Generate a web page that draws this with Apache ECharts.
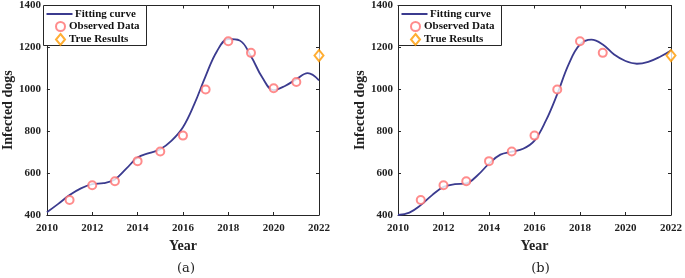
<!DOCTYPE html>
<html><head><meta charset="utf-8">
<script src="https://cdn.jsdelivr.net/npm/echarts@6/dist/echarts.min.js"></script>
<style>html,body{margin:0;padding:0;background:#fff}#c{width:685px;height:278px}</style>
</head><body><div id="c"></div>
<script>
// Data
const observedYearsA = [2011,2012,2013,2014,2015,2016,2017,2018,2019,2020,2021];
const observedValuesA = [472,542,561,657,703,779,999,1229,1174,1005,1035];
const observedYearsB = [2011,2012,2013,2014,2015,2016,2017,2018,2019];
const observedValuesB = [472,542,561,657,703,779,999,1229,1174];
const trueYears = [2022];
const trueValues = [1161];
const curveYears = [2010,2010.5,2011,2011.5,2012,2012.5,2013,2013.5,2014,2014.5,2015,2015.5,2016,2016.5,2017,2017.5,2018,2018.5,2019,2019.5,2020,2020.5,2021,2021.5,2022];
const curveA = [413,453,495,527,547,552,570,621,674,695,714,755,819,929,1063,1182,1240,1233,1158,1056,996,1016,1048,1077,1043];
const curveB = [400,411,447,495,534,547,551,590,645,688,702,716,755,850,977,1119,1214,1237,1214,1166,1135,1122,1131,1154,1185];
const xTicks = [2010,2012,2014,2016,2018,2020,2022];
const yTicks = [400,600,800,1000,1200,1400];
const panelLabels = ['(a)','(b)'];
const legendNames = ['Fitting curve','Observed Data','True Results'];

const FONT = 'Liberation Serif';
const AX = '#262626';
const LINE = '#3b3b8f';
const RED = '#ff6f6f';
const ORANGE = '#ff9a00';

const pairs = (xs, ys) => xs.map((x, i) => [x, ys[i]]);

const grids = [
  {left: 43, top: 5, width: 276, height: 210},
  {left: 398, top: 5, width: 275, height: 210}
];

const xAxes = [], yAxes = [], series = [], legends = [], titles = [], graphics = [];
const legendText = {fontFamily: FONT, fontWeight: 'bold', fontSize: 11, lineHeight: 12, color: '#111'};
[0,1].forEach(g => {
  const L = grids[g].left;
  const base = {min: xTicks[0], max: xTicks[xTicks.length-1], interval: 2, gridIndex: g,
    axisLine: {show: true, onZero: false, lineStyle: {color: AX, width: 1}},
    axisTick: {show: true, inside: true, length: 3, lineStyle: {color: AX}},
    splitLine: {show: false}};
  xAxes.push(Object.assign({}, base, {type: 'value', position: 'bottom',
    name: 'Year', nameLocation: 'middle', nameGap: 18,
    nameTextStyle: {fontFamily: FONT, fontWeight: 'bold', fontSize: 14, color: '#222'},
    axisLabel: {fontFamily: FONT, fontWeight: 'bold', fontSize: 11, color: '#222', margin: 8,
      formatter: v => String(v)}}));
  xAxes.push(Object.assign({}, base, {type: 'value', position: 'top', axisLabel: {show: false}}));
  const ybase = {type: 'value', min: yTicks[0], max: yTicks[yTicks.length-1], interval: 200, gridIndex: g,
    axisLine: {show: true, onZero: false, lineStyle: {color: AX, width: 1}},
    axisTick: {show: true, inside: true, length: 3, lineStyle: {color: AX}},
    splitLine: {show: false}};
  yAxes.push(Object.assign({}, ybase, {position: 'left',
    name: 'Infected dogs', nameLocation: 'middle', nameGap: g === 0 ? 26 : 31,
    nameTextStyle: {fontFamily: FONT, fontWeight: 'bold', fontSize: 14, color: '#222'},
    axisLabel: {fontFamily: FONT, fontWeight: 'bold', fontSize: 11, color: '#222', margin: g === 0 ? 6 : 5,
      formatter: v => String(v)}}));
  yAxes.push(Object.assign({}, ybase, {position: 'right', axisLabel: {show: false}}));

  series.push({name: legendNames[0], type: 'line', xAxisIndex: 2*g, yAxisIndex: 2*g,
    data: pairs(curveYears, g === 0 ? curveA : curveB), smooth: 0.4,
    symbol: 'none', lineStyle: {color: LINE, width: 1.8}, itemStyle: {color: LINE}, z: 2});
  series.push({name: legendNames[1], type: 'scatter', xAxisIndex: 2*g, yAxisIndex: 2*g,
    data: g === 0 ? pairs(observedYearsA, observedValuesA) : pairs(observedYearsB, observedValuesB),
    symbol: 'emptyCircle', symbolSize: 8,
    itemStyle: {color: RED, borderColor: RED, borderWidth: 1.2}, z: 3});
  series.push({name: legendNames[2], type: 'scatter', xAxisIndex: 2*g, yAxisIndex: 2*g,
    data: pairs(trueYears, trueValues), symbol: 'emptyDiamond', symbolSize: [9, 11], clip: false,
    itemStyle: {color: ORANGE, borderColor: ORANGE, borderWidth: 1.5}, z: 3});

  // legend box
  graphics.push({type: 'rect', left: L, top: 5, z: 90,
    shape: {width: 103, height: 40}, style: {fill: '#fff', stroke: AX, lineWidth: 1}});
  legends.push({left: L + 3.5, top: 8, padding: 0, itemWidth: 26, itemHeight: 2, selectedMode: false, z: 100,
    textStyle: Object.assign({}, legendText, {padding: [0,0,0,-2.5]}),
    data: [{name: legendNames[0], icon: 'rect', itemStyle: {color: LINE}}]});
  legends.push({left: L + 12, top: 20.5, padding: 0, itemWidth: 9, itemHeight: 9, selectedMode: false, z: 100,
    textStyle: Object.assign({}, legendText, {padding: [0,0,0,-1]}),
    data: [{name: legendNames[1], icon: 'emptyCircle', itemStyle: {borderWidth: 1.2}}]});
  legends.push({left: L + 12, top: 33, padding: 0, itemWidth: 9, itemHeight: 11, selectedMode: false, z: 100,
    textStyle: Object.assign({}, legendText, {padding: [0,0,0,-1]}),
    data: [{name: legendNames[2], icon: 'emptyDiamond'}]});

  titles.push({text: panelLabels[g], left: L + grids[g].width/2, top: 257, textAlign: 'center',
    textStyle: {fontFamily: 'DejaVu Serif', fontWeight: 'normal', fontSize: 13, color: '#222'}});
});

const chart = echarts.init(document.getElementById('c'), null, {renderer: 'canvas'});
chart.setOption({
  animation: false,
  backgroundColor: '#fff',
  title: titles,
  grid: grids,
  xAxis: xAxes,
  yAxis: yAxes,
  legend: legends,
  graphic: graphics,
  series: series
});
</script></body></html>
